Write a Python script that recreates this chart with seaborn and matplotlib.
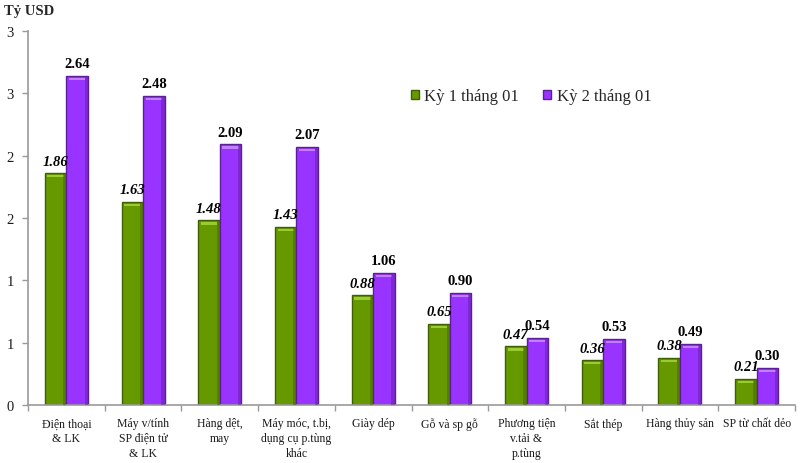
import matplotlib
matplotlib.use("Agg")
import matplotlib.pyplot as plt
import matplotlib.patches as mpatches
import seaborn as sns
import pandas as pd
import numpy as np

categories = ["Điện thoại\n& LK", "Máy v/tính\nSP điện tử\n& LK", "Hàng dệt,\nmay",
              "Máy móc, t.bị,\ndụng cụ p.tùng\nkhác", "Giày dép", "Gỗ và sp gỗ",
              "Phương tiện\nv.tải &\np.tùng", "Sắt thép", "Hàng thủy sản", "SP từ chất dẻo"]
series_names = ["Kỳ 1 tháng 01", "Kỳ 2 tháng 01"]
ky1 = [1.86, 1.63, 1.48, 1.43, 0.88, 0.65, 0.47, 0.36, 0.38, 0.21]
ky2 = [2.64, 2.48, 2.09, 2.07, 1.06, 0.90, 0.54, 0.53, 0.49, 0.30]
y_ticks = [0, 0.5, 1, 1.5, 2, 2.5, 3]
y_tick_labels = ["0", "1", "1", "2", "2", "3", "3"]
unit_label = "Tỷ USD"

sns.set_theme(style="white")
plt.rcParams['font.family'] = ['Liberation Serif', 'DejaVu Serif']

df = pd.DataFrame({
    "cat": categories * 2,
    "series": [series_names[0]] * len(categories) + [series_names[1]] * len(categories),
    "value": ky1 + ky2,
})

face = {series_names[0]: "#669900", series_names[1]: "#9933ff"}
edge = {series_names[0]: "#3f5f00", series_names[1]: "#5c1f99"}
light = {series_names[0]: "#99cc33", series_names[1]: "#c080ff"}

fig = plt.figure(figsize=(8, 4.64), dpi=100)
ax = fig.add_axes([28 / 800, 1 - 406 / 464, (795 - 28) / 800, (406 - 32) / 464])

sns.barplot(data=df, x="cat", y="value", hue="series", hue_order=series_names,
            order=categories, palette=face, width=0.56, gap=0, ax=ax,
            edgecolor="#444444", linewidth=1.0, saturation=1)

ax.set_xlim(-0.5, len(categories) - 0.5)
ax.set_ylim(0, 3)

# bevel highlight derived from each bar's own geometry
band = 0.035
for cont, name in zip(ax.containers, series_names):
    for bar in cont:
        bar.set_edgecolor(edge[name])
        x, w, h = bar.get_x(), bar.get_width(), bar.get_height()
        ax.add_patch(mpatches.Rectangle((x + w * 0.12, h - band), w * 0.76, band * 0.55,
                                        facecolor=light[name], edgecolor="none", zorder=3))
        ax.add_patch(mpatches.Rectangle((x + w * 0.85, 0), w * 0.15, h,
                                        facecolor=edge[name], edgecolor="none", alpha=0.45, zorder=3))

for cont, name, style in zip(ax.containers, series_names, ["italic", "normal"]):
    ax.bar_label(cont, labels=[f"{v:.2f}" for v in cont.datavalues], padding=4,
                 fontsize=10.5, fontweight="bold", fontstyle=style, color="black")

ax.set_yticks(y_ticks)
ax.set_yticklabels(y_tick_labels, fontsize=10.5, color="#1a1a1a")
ax.set_xticks(range(len(categories)))
ax.set_xticklabels(categories, fontsize=8.5, linespacing=1.3, color="#1a1a1a")
ax.set_xticks(np.arange(-0.5, len(categories), 1), minor=True)
ax.tick_params(axis="x", which="major", length=0, pad=9)
ax.tick_params(axis="x", which="minor", length=4, width=1, color="#999999", direction="out", bottom=True)
ax.tick_params(axis="y", length=4, width=1, color="#999999", direction="out", left=True, pad=6)
ax.set_xlabel("")
ax.set_ylabel("")
for s in ["top", "right"]:
    ax.spines[s].set_visible(False)
for s in ["left", "bottom"]:
    ax.spines[s].set_color("#999999")
    ax.spines[s].set_linewidth(1.2)

fig.text(4 / 800, 1 - 11 / 464, unit_label, fontsize=10.5, fontweight="bold", va="center", ha="left")

handles, labels = ax.get_legend_handles_labels()
ax.get_legend().remove()
for h, name in zip(handles, series_names):
    h.set_edgecolor(edge[name])
fig.legend(handles, labels, loc="center left", bbox_to_anchor=(396 / 800, 1 - 97 / 464),
           ncol=2, frameon=False, fontsize=12, handlelength=0.45, handleheight=0.45,
           handletextpad=0.35, columnspacing=1.45)

fig.savefig("out.png", dpi=100)
